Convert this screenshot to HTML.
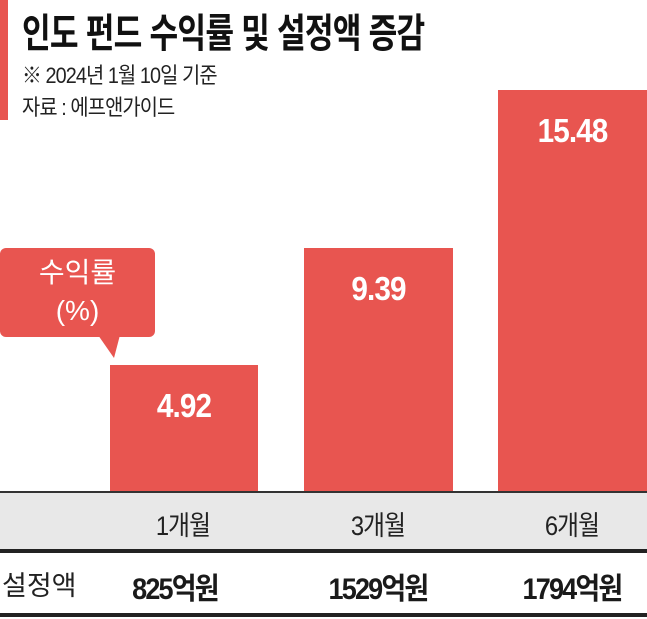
<!DOCTYPE html>
<html><head><meta charset="utf-8"><style>
body{margin:0;width:647px;height:619px;background:#fff;position:relative;overflow:hidden;font-family:"Liberation Sans","Noto Sans CJK KR",sans-serif}
div{position:absolute}
.bar{background:#e85550}
.v{color:#fff;font-weight:bold;font-size:33px;text-align:center;width:100%;letter-spacing:-1px;transform:scaleX(0.9)}
.lab{font-size:27px;color:#222;text-align:center;width:150px;letter-spacing:-1px;transform:scaleX(0.88)}
.amt{font-size:30px;color:#1a1a1a;text-align:center;width:190px;font-weight:bold;letter-spacing:-2px;transform:scaleX(0.9)}
</style></head><body>
<div style="left:0;top:0;width:8px;height:120px;background:#e85550"></div>
<div style="left:22px;top:1px;font-size:40px;font-weight:bold;color:#111;letter-spacing:-1px;transform:scaleX(0.78);transform-origin:0 0;white-space:nowrap">인도 펀드 수익률 및 설정액 증감</div>
<div style="left:22px;top:58px;font-size:22px;color:#222;letter-spacing:-1px;transform:scaleX(0.9);transform-origin:0 0;white-space:nowrap">※ 2024년 1월 10일 기준</div>
<div style="left:22px;top:90px;font-size:22px;color:#222;letter-spacing:-1px;transform:scaleX(0.9);transform-origin:0 0;white-space:nowrap">자료 : 에프앤가이드</div>
<div class="bar" style="left:0;top:248px;width:155px;height:89px;border-radius:6px"></div>
<svg style="position:absolute;left:0;top:0" width="647" height="619"><polygon points="98,335 120,335 114,358" fill="#e85550"/></svg>
<div style="left:0;top:254px;width:155px;text-align:center;color:#fff;font-size:28px;line-height:38px">수익률<br>(%)</div>
<div class="bar" style="left:110px;top:365px;width:148px;height:127px"><div class="v" style="top:22px">4.92</div></div>
<div class="bar" style="left:304px;top:248px;width:149px;height:244px"><div class="v" style="top:22px">9.39</div></div>
<div class="bar" style="left:498px;top:90px;width:149px;height:402px"><div class="v" style="top:22px">15.48</div></div>
<div style="left:0;top:491px;width:647px;height:2px;background:#333"></div>
<div style="left:0;top:493px;width:647px;height:57px;background:#e8e8e8"></div>
<div style="left:0;top:549px;width:647px;height:4px;background:#222"></div>
<div style="left:0;top:613px;width:647px;height:4px;background:#222"></div>
<div class="lab" style="left:108px;top:504px">1개월</div>
<div class="lab" style="left:303px;top:504px">3개월</div>
<div class="lab" style="left:497px;top:504px">6개월</div>
<div style="left:2px;top:564px;font-size:27px;color:#222">설정액</div>
<div class="amt" style="left:80px;top:564px">825억원</div>
<div class="amt" style="left:283px;top:564px">1529억원</div>
<div class="amt" style="left:477px;top:564px">1794억원</div>
</body></html>
